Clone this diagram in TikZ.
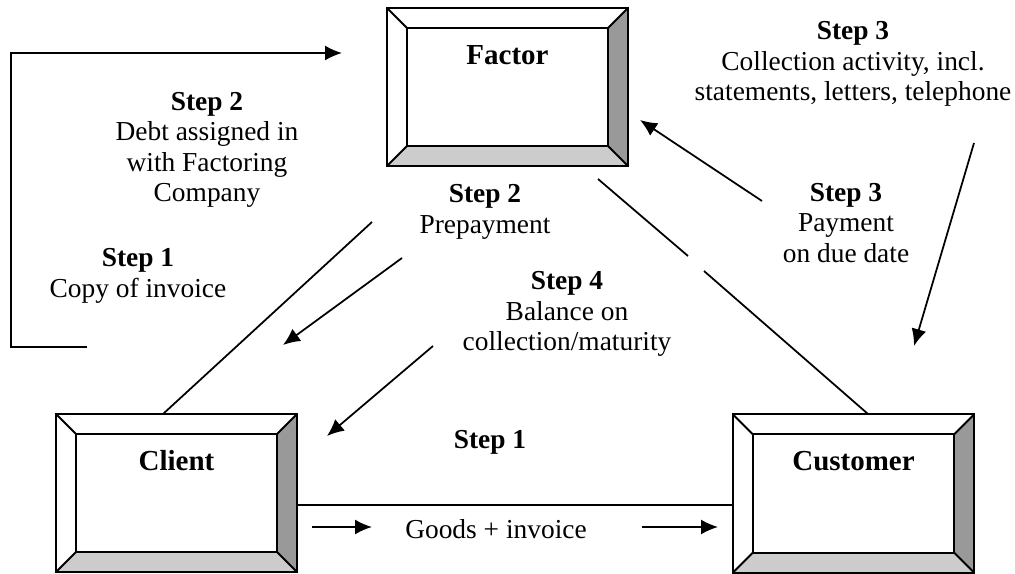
\documentclass[tikz,border=0pt]{standalone}
\usepackage{fontspec}
\setmainfont{Liberation Serif}
\usetikzlibrary{arrows.meta}

\definecolor{bevelside}{gray}{0.6}
\definecolor{bevelbottom}{gray}{0.8}

% bevelled box: name, centre, title
\newcommand{\bevelbox}[3]{%
  \node[boxframe] (#1) at (#2) {};
  \fill[bevelside] (#1.north east) -- (#1.south east)
    -- ([shift={(-20,-20)}]#1.south east) -- ([shift={(-20,20)}]#1.north east) -- cycle;
  \fill[bevelbottom] (#1.south west) -- (#1.south east)
    -- ([shift={(-20,-20)}]#1.south east) -- ([shift={(20,-20)}]#1.south west) -- cycle;
  \draw[boxline] ([shift={(20,20)}]#1.north west) rectangle ([shift={(-20,-20)}]#1.south east);
  \draw[boxline] (#1.north west) -- ++(20,20) (#1.north east) -- ++(-20,20)
    (#1.south west) -- ++(20,-20) (#1.south east) -- ++(-20,-20);
  \draw[boxline] (#1.north west) rectangle (#1.south east);
  \node[boxtitle] (#1-title) at ([shift={(0,47)}]#1.north) {#3};
}

\begin{document}
\begin{tikzpicture}[x=0.02cm, y=-0.02cm, >={Latex[length=0.34cm,width=0.3cm]},
  boxframe/.style={rectangle, minimum width=4.82cm, minimum height=3.16cm, inner sep=0},
  boxline/.style={line width=1.1pt},
  boxtitle/.style={font=\fontsize{16.5}{18}\selectfont\bfseries, inner sep=0},
  note/.style={font=\fontsize{15.6}{17.4}\selectfont, align=center, inner sep=0},
  link/.style={line width=1pt},
  flow/.style={->, line width=1pt}]
  \useasboundingbox (0,0) rectangle (1015,574);

  % the three parties
  \bevelbox{factor}{507.5,87}{Factor}
  \bevelbox{client}{176.5,493}{Client}
  \bevelbox{customer}{853.5,493.5}{Customer}

  % texts
  \node[note] (debt) at (207,150)
    {\textbf{Step 2}\\Debt assigned in\\with Factoring\\Company};
  \node[note] (copy) at (138,276) {\textbf{Step 1}\\Copy of invoice};
  \node[note] (prepay) at (485,212) {\textbf{Step 2}\\Prepayment};
  \node[note] (balance) at (567,314)
    {\textbf{Step 4}\\Balance on\\collection/maturity};
  \node[note] (collect) at (853,64)
    {\textbf{Step 3}\\Collection activity, incl.\\statements, letters, telephone};
  \node[note] (payment) at (846,223) {\textbf{Step 3}\\Payment\\on due date};
  \node[note, font=\fontsize{15.6}{17.4}\selectfont\bfseries] (stepone) at (490,442) {Step 1};
  \node[note] (goods) at (496,529) {Goods + invoice};

  % connector ends
  \coordinate (fcl) at (372,222);
  \coordinate (clf) at (163,414);
  \coordinate (fcu) at (598,179);
  \coordinate (gapa) at (688,256);
  \coordinate (gapb) at (704,271);
  \coordinate (cuf) at (868,414);
  \coordinate (clc) at (client.east |- 0,505);
  \coordinate (cuc) at (customer.west |- 0,505);

  \draw[link] (fcl) -- (clf);
  \draw[link] (fcu) -- (gapa);
  \draw[link] (gapb) -- (cuf);
  \draw[link] (clc) -- (cuc);

  % arrows
  \coordinate (copya) at (87,347);
  \coordinate (copyb) at (11,347);
  \coordinate (copyc) at (11,53);
  \coordinate (copyd) at (342,53);
  \draw[flow] (copya) -- (copyb) -- (copyc) -- (copyd);

  \coordinate (prepa) at (402,258);
  \coordinate (prepb) at (283,345);
  \draw[flow] (prepa) -- (prepb);

  \coordinate (bala) at (433,346);
  \coordinate (balb) at (327,436);
  \draw[flow] (bala) -- (balb);

  \coordinate (paya) at (762,201);
  \coordinate (payb) at (640,120);
  \draw[flow] (paya) -- (payb);

  \coordinate (cola) at (974,143);
  \coordinate (colb) at (914,346);
  \draw[flow] (cola) -- (colb);

  \coordinate (gda) at (312,527);
  \coordinate (gdb) at (372,527);
  \coordinate (gdc) at (642,527);
  \coordinate (gdd) at (718,527);
  \draw[flow] (gda) -- (gdb);
  \draw[flow] (gdc) -- (gdd);
\end{tikzpicture}
\end{document}
